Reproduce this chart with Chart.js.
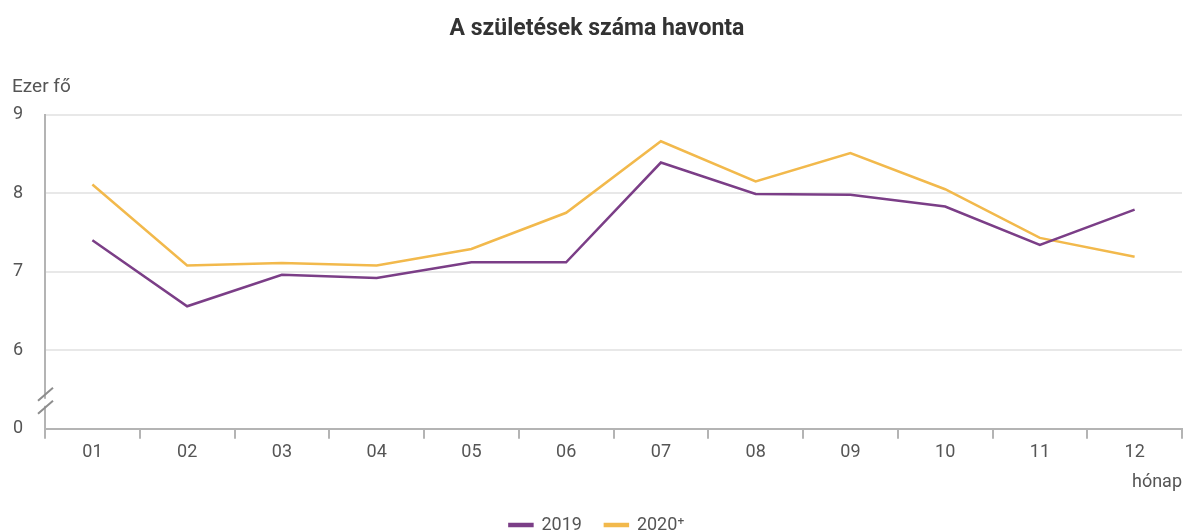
<!DOCTYPE html>
<html>
<head>
<meta charset="utf-8">
<script src="https://cdn.jsdelivr.net/npm/chart.js@4/dist/chart.umd.min.js"></script>
<style>
html,body{margin:0;padding:0;background:#fff;}
#wrap{width:1185px;height:532px;position:relative;}
</style>
</head>
<body>
<div id="wrap"><canvas id="c"></canvas></div>
<script>
const months = ['01','02','03','04','05','06','07','08','09','10','11','12'];
const births2019 = [7.40, 6.56, 6.96, 6.92, 7.12, 7.12, 8.39, 7.99, 7.98, 7.83, 7.34, 7.79];
const births2020 = [8.11, 7.08, 7.11, 7.08, 7.29, 7.75, 8.66, 8.15, 8.51, 8.05, 7.43, 7.19];
const seriesLabels = ['2019', '2020\u207A'];
const yTicks = [5, 6, 7, 8, 9];           // 5 is shown as "0" (broken axis)
const yTickLabels = ['0', '6', '7', '8', '9'];

const PURPLE = '#7b3e87';
const ORANGE = '#f2b94c';
const AXIS = '#b4b4b4';
const TXT = '#555555';

const extras = {
  id: 'extras',
  afterDraw(chart) {
    const ctx = chart.ctx;
    const y = chart.scales.y;
    const x0 = chart.chartArea.left;
    const base = y.getPixelForValue(5);
    ctx.save();
    ctx.fillStyle = TXT;
    ctx.font = '19px Roboto';
    ctx.textAlign = 'left';
    ctx.textBaseline = 'middle';
    ctx.fillText('Ezer f\u0151', 12, 87);
    const mid = base - 26;
    ctx.fillStyle = '#ffffff';
    ctx.fillRect(x0 - 3, mid - 4, 6, 7);
    ctx.strokeStyle = '#8e8e8e';
    ctx.lineWidth = 2;
    ctx.beginPath();
    ctx.moveTo(x0 - 7, mid - 2); ctx.lineTo(x0 + 8, mid - 15);
    ctx.moveTo(x0 - 7, mid + 11); ctx.lineTo(x0 + 8, mid - 2);
    ctx.stroke();
    ctx.restore();
  }
};

new Chart(document.getElementById('c'), {
  type: 'line',
  data: {
    labels: months,
    datasets: [
      { label: seriesLabels[0], data: births2019, borderColor: PURPLE, backgroundColor: PURPLE,
        borderWidth: 2.5, pointRadius: 0, tension: 0 },
      { label: seriesLabels[1], data: births2020, borderColor: ORANGE, backgroundColor: ORANGE,
        borderWidth: 2.5, pointRadius: 0, tension: 0 }
    ]
  },
  options: {
    responsive: true,
    maintainAspectRatio: false,
    animation: false,
    layout: { padding: { left: 12, right: 3, top: 6, bottom: -12 } },
    plugins: {
      title: {
        display: true,
        text: 'A sz\u00FClet\u00E9sek sz\u00E1ma havonta',
        color: '#333333',
        font: { family: 'Roboto', size: 23, weight: 'bold', lineHeight: 1.2 },
        padding: { top: 9, bottom: 72 }
      },
      legend: {
        position: 'bottom',
        labels: {
          color: TXT,
          font: { family: 'Roboto', size: 18 },
          boxWidth: 23,
          boxHeight: 2,
          padding: 23
        }
      },
      tooltip: { enabled: false }
    },
    scales: {
      x: {
        offset: true,
        grid: { offset: true, drawOnChartArea: false, drawTicks: true, tickLength: 10, color: AXIS, lineWidth: 2 },
        border: { color: AXIS, width: 2 },
        ticks: { color: TXT, font: { family: 'Roboto', size: 18 }, padding: 3 },
        title: { display: true, text: 'h\u00F3nap', align: 'end', color: TXT,
                 font: { family: 'Roboto', size: 18 }, padding: { top: 5, bottom: 0 } }
      },
      y: {
        min: 5, max: 9,
        afterBuildTicks(scale) { scale.ticks = yTicks.map(v => ({ value: v })); },
        afterFit(scale) { scale.width = 33; },
        grid: {
          drawTicks: false,
          color: ctx => (ctx.tick && ctx.tick.value === 5) ? 'rgba(0,0,0,0)' : '#e8e8e8',
          lineWidth: 2
        },
        border: { color: AXIS, width: 2 },
        ticks: {
          color: TXT, font: { family: 'Roboto', size: 18 }, padding: 22,
          callback: (v) => { const i = yTicks.indexOf(v); return i >= 0 ? yTickLabels[i] : ''; }
        }
      }
    }
  },
  plugins: [extras]
});
</script>
</body>
</html>
